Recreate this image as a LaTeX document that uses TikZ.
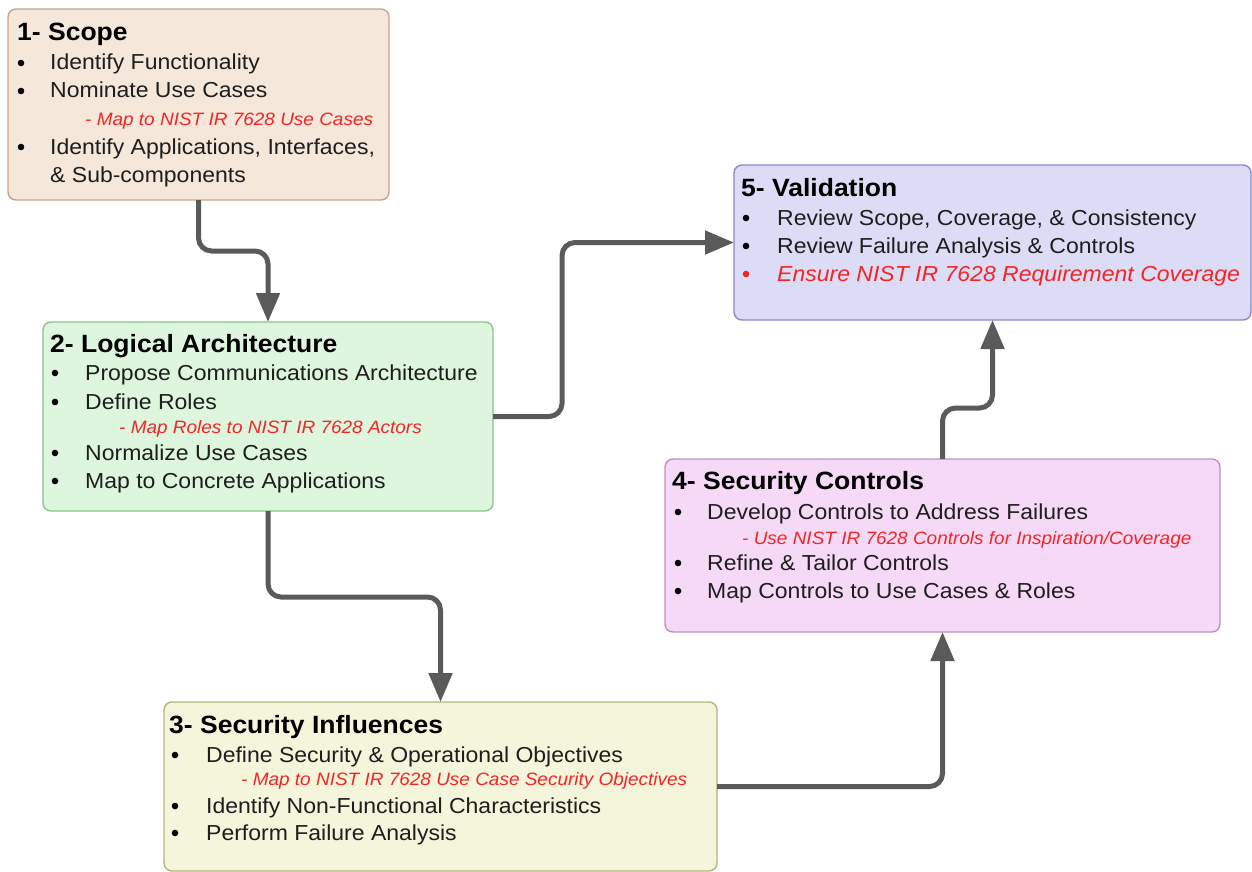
\documentclass[tikz,border=0pt]{standalone}
\usepackage{fontspec}
\setmainfont{Liberation Sans}[FakeStretch=1.06]
\usetikzlibrary{arrows.meta}
\definecolor{fillA}{HTML}{F6E7DB}\definecolor{drawA}{HTML}{C8A488}
\definecolor{fillB}{HTML}{DDF6DD}\definecolor{drawB}{HTML}{88C688}
\definecolor{fillC}{HTML}{F5F5DC}\definecolor{drawC}{HTML}{B4B47C}
\definecolor{fillD}{HTML}{F6D9F6}\definecolor{drawD}{HTML}{C68CC6}
\definecolor{fillE}{HTML}{DCDCF6}\definecolor{drawE}{HTML}{8A8AC8}
\definecolor{arrowgray}{HTML}{5A5A5A}
\definecolor{txt}{HTML}{1E1E1E}
\definecolor{redtxt}{HTML}{F52525}
\begin{document}
\begin{tikzpicture}[x=1pt,y=-1pt,
  box/.style={draw, line width=1.4pt, rounded corners=8pt, inner sep=0pt, outer sep=0pt, anchor=north west},
  title/.style={font=\bfseries\fontsize{25}{30}\selectfont, anchor=base west, inner sep=0pt, text=black},
  body/.style={font=\fontsize{21.7}{26}\selectfont, anchor=base west, inner sep=0pt, text=txt},
  note/.style={font=\itshape\fontsize{17.9}{22}\selectfont, anchor=base west, inner sep=0pt, text=redtxt},
  conn/.style={draw=arrowgray, line width=5pt, rounded corners=13pt, -{Triangle[length=29pt,width=23pt]}},
  dot/.style={fill=black}
]
\useasboundingbox (0,0) rectangle (1252,872);

% boxes
\node[box, fill=fillA, draw=drawA, minimum width=381pt, minimum height=191pt] (b1) at (8,9) {};
\node[box, fill=fillB, draw=drawB, minimum width=450pt, minimum height=189pt] (b2) at (43,322) {};
\node[box, fill=fillC, draw=drawC, minimum width=553pt, minimum height=169pt] (b3) at (164,702) {};
\node[box, fill=fillD, draw=drawD, minimum width=555pt, minimum height=173pt] (b4) at (665,459) {};
\node[box, fill=fillE, draw=drawE, minimum width=517pt, minimum height=155pt] (b5) at (734,165) {};

% connectors
\draw[conn] (b1.south) -- ++(0,51) -| (b2.north);
\draw[conn] (b2.east) -- ++(69,0) |- (b5.west);
\draw[conn] (b2.south) -- ++(0,86) -| (b3.north);
\draw[conn] (b3.east) -| (b4.south);
\draw[conn] (b4.north) -- ++(0,-51) -| (b5.south);

% box 1
\node[title] (h1) at (17,41) {1- Scope};
\fill[dot] (21,63) circle (3.3pt);
\node[body] (t11) at (50,70) {Identify Functionality};
\fill[dot] (21,91) circle (3.3pt);
\node[body] (t12) at (50,98) {Nominate Use Cases};
\node[note] (n11) at (85,126) {- Map to NIST IR 7628 Use Cases};
\fill[dot] (21,147) circle (3.3pt);
\node[body] (t13) at (50,154) {Identify Applications, Interfaces,};
\node[body] (t14) at (50,182) {\& Sub-components};

% box 2
\node[title] (h2) at (50,352) {2- Logical Architecture};
\fill[dot] (55,373) circle (3.3pt);
\node[body] (t21) at (85,380) {Propose Communications Architecture};
\fill[dot] (55,402) circle (3.3pt);
\node[body] (t22) at (85,409) {Define Roles};
\node[note] (n21) at (119,433) {- Map Roles to NIST IR 7628 Actors};
\fill[dot] (55,453) circle (3.3pt);
\node[body] (t23) at (85,460) {Normalize Use Cases};
\fill[dot] (55,481) circle (3.3pt);
\node[body] (t24) at (85,488) {Map to Concrete Applications};

% box 3
\node[title] (h3) at (169,733) {3- Security Influences};
\fill[dot] (175,755) circle (3.3pt);
\node[body] (t31) at (206,762) {Define Security \& Operational Objectives};
\node[note] (n31) at (241,785) {- Map to NIST IR 7628 Use Case Security Objectives};
\fill[dot] (175,806) circle (3.3pt);
\node[body] (t32) at (206,813) {Identify Non-Functional Characteristics};
\fill[dot] (175,833) circle (3.3pt);
\node[body] (t33) at (206,840) {Perform Failure Analysis};

% box 4
\node[title] (h4) at (672,489) {4- Security Controls};
\fill[dot] (678,512) circle (3.3pt);
\node[body] (t41) at (707,519) {Develop Controls to Address Failures};
\node[note] (n41) at (742,544) {- Use NIST IR 7628 Controls for Inspiration/Coverage};
\fill[dot] (678,563) circle (3.3pt);
\node[body] (t42) at (707,570) {Refine \& Tailor Controls};
\fill[dot] (678,591) circle (3.3pt);
\node[body] (t43) at (707,598) {Map Controls to Use Cases \& Roles};

% box 5
\node[title] (h5) at (741,196) {5- Validation};
\fill[dot] (746,218) circle (3.3pt);
\node[body] (t51) at (777,225) {Review Scope, Coverage, \& Consistency};
\fill[dot] (746,246) circle (3.3pt);
\node[body] (t52) at (777,253) {Review Failure Analysis \& Controls};
\fill[redtxt] (746,274) circle (3.3pt);
\node[body, font=\itshape\fontsize{21.7}{26}\selectfont, text=redtxt] (t53) at (777,281) {Ensure NIST IR 7628 Requirement Coverage};
\end{tikzpicture}
\end{document}
